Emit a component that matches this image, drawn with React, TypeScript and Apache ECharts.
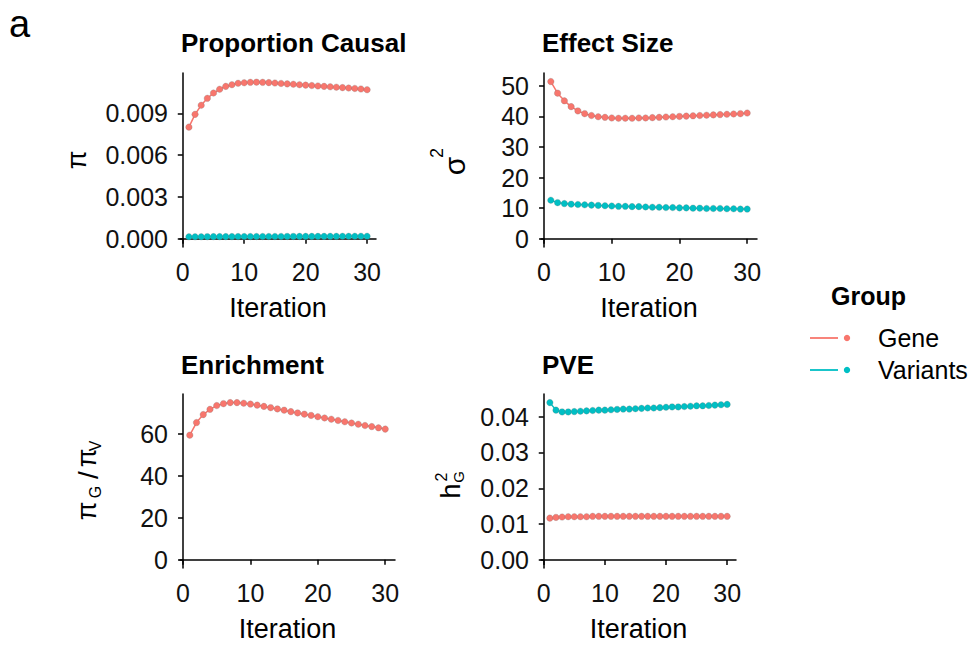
import React, { useEffect, useRef } from "react";
import * as echarts from "echarts";

const iterations = [1, 2, 3, 4, 5, 6, 7, 8, 9, 10, 11, 12, 13, 14, 15, 16, 17, 18, 19, 20, 21, 22, 23, 24, 25, 26, 27, 28, 29, 30];

const propCausalGene = [0.00801, 0.00893, 0.00958, 0.01008, 0.01046, 0.01073, 0.01094, 0.01106, 0.01116, 0.0112, 0.01123, 0.01124, 0.01123, 0.01121, 0.01118, 0.01115, 0.01112, 0.01109, 0.01106, 0.01103, 0.011, 0.01097, 0.01094, 0.01091, 0.01088, 0.01085, 0.01082, 0.01079, 0.01075, 0.0107];
const propCausalVariants = [0.000135, 0.000137, 0.000139, 0.000141, 0.000143, 0.000144, 0.000146, 0.000148, 0.00015, 0.000151, 0.000153, 0.000154, 0.000155, 0.000156, 0.000157, 0.000158, 0.000159, 0.00016, 0.000161, 0.000162, 0.000163, 0.000164, 0.000165, 0.000166, 0.000167, 0.000168, 0.000169, 0.00017, 0.000171, 0.000172];

const effectGene = [51.4, 47.6, 45.1, 43.2, 41.8, 40.9, 40.3, 39.9, 39.7, 39.5, 39.4, 39.4, 39.4, 39.5, 39.5, 39.6, 39.7, 39.8, 39.9, 40.0, 40.1, 40.2, 40.3, 40.4, 40.5, 40.6, 40.7, 40.8, 40.9, 41.1];
const effectVariants = [12.6, 11.8, 11.5, 11.3, 11.2, 11.1, 11.0, 10.9, 10.8, 10.7, 10.6, 10.6, 10.5, 10.5, 10.4, 10.3, 10.3, 10.2, 10.2, 10.1, 10.1, 10.0, 10.0, 9.9, 9.9, 9.9, 9.8, 9.8, 9.7, 9.7];

const enrichmentGene = [59.3, 65.3, 69.1, 71.6, 73.4, 74.3, 74.8, 74.8, 74.5, 74.1, 73.6, 73.0, 72.4, 71.8, 71.2, 70.5, 69.9, 69.3, 68.7, 68.1, 67.5, 66.9, 66.3, 65.7, 65.1, 64.5, 63.9, 63.4, 62.8, 62.2];

const pveGene = [0.0117, 0.0119, 0.012, 0.0121, 0.0121, 0.0121, 0.0121, 0.0122, 0.0122, 0.0122, 0.0122, 0.0122, 0.0122, 0.0122, 0.0122, 0.0122, 0.0122, 0.0122, 0.0122, 0.0122, 0.0122, 0.0122, 0.0122, 0.0122, 0.0122, 0.0122, 0.0122, 0.0122, 0.0122, 0.0122];
const pveVariants = [0.0439, 0.0418, 0.0413, 0.0413, 0.0414, 0.0415, 0.0416, 0.0417, 0.0418, 0.0418, 0.0419, 0.042, 0.0421, 0.0421, 0.0422, 0.0423, 0.0424, 0.0424, 0.0425, 0.0426, 0.0427, 0.0427, 0.0428, 0.0429, 0.043, 0.043, 0.0431, 0.0432, 0.0433, 0.0434];

const xTicks = [0, 10, 20, 30];
const yTicksProp = [0, 0.003, 0.006, 0.009];
const yTicksEffect = [0, 10, 20, 30, 40, 50];
const yTicksEnrich = [0, 20, 40, 60];
const yTicksPve = [0, 0.01, 0.02, 0.03, 0.04];

const panelTitles = ["Proportion Causal", "Effect Size", "Enrichment", "PVE"];
const groups = ["Gene", "Variants"];
const GENE = "#F8766D";
const VAR = "#00BFC4";
const FONT = "'Liberation Sans', Arial, sans-serif";

export default function App() {
  const ref = useRef<HTMLDivElement>(null);
  useEffect(() => {
    document.body.style.margin = "0";
    if (!ref.current) return;
    const chart = echarts.init(ref.current, null, { renderer: "svg" });

    const grids = [
      { left: 180, top: 73, width: 196, height: 174 },
      { left: 541, top: 73, width: 216, height: 174 },
      { left: 180, top: 394, width: 215, height: 174 },
      { left: 541, top: 394, width: 195, height: 174 },
    ];
    const yRanges = [
      { min: -0.0006, max: 0.0119, ticks: yTicksProp, dec: 3 },
      { min: -2.7, max: 54.2, ticks: yTicksEffect, dec: 0 },
      { min: -3.9, max: 78.9, ticks: yTicksEnrich, dec: 0 },
      { min: -0.0022, max: 0.0463, ticks: yTicksPve, dec: 2 },
    ];
    const axisLine = { show: true, lineStyle: { color: "#000", width: 1.5 } };
    const axisTick = (vals: number[]) => ({ show: true, length: 5, lineStyle: { color: "#000", width: 1.5 }, customValues: vals });

    const xAxis = grids.map((_, i) => ({
      type: "value",
      gridIndex: i,
      min: -0.45,
      max: 31.45,
      axisLine,
      axisTick: axisTick(xTicks),
      splitLine: { show: false },
      axisLabel: { customValues: xTicks, margin: 12, fontSize: 25, color: "#111", fontFamily: FONT },
      name: "Iteration",
      nameLocation: "middle",
      nameGap: 47,
      nameTextStyle: { fontSize: 27, color: "#000", fontFamily: FONT },
    }));
    const yAxis = yRanges.map((r, i) => ({
      type: "value",
      gridIndex: i,
      min: r.min,
      max: r.max,
      axisLine,
      axisTick: axisTick(r.ticks),
      splitLine: { show: false },
      axisLabel: {
        customValues: r.ticks,
        margin: 12,
        fontSize: 25,
        color: "#111",
        fontFamily: FONT,
        formatter: (v: number) => v.toFixed(r.dec),
      },
    }));

    const mk = (name: string, color: string, vals: number[], idx: number) => ({
      type: "line",
      name,
      xAxisIndex: idx,
      yAxisIndex: idx,
      data: iterations.map((it, k) => [it, vals[k]]),
      symbol: "circle",
      symbolSize: 6.5,
      showSymbol: true,
      lineStyle: { color, width: 1.5 },
      itemStyle: { color, borderColor: "rgba(110,110,110,0.5)", borderWidth: 0.5 },
      emphasis: { disabled: true },
    });

    const series = [
      mk(groups[0], GENE, propCausalGene, 0),
      mk(groups[1], VAR, propCausalVariants, 0),
      mk(groups[0], GENE, effectGene, 1),
      mk(groups[1], VAR, effectVariants, 1),
      mk(groups[0], GENE, enrichmentGene, 2),
      mk(groups[0], GENE, pveGene, 3),
      mk(groups[1], VAR, pveVariants, 3),
    ];

    const titlePos = [
      [181, 43],
      [542, 43],
      [181, 365],
      [542, 365],
    ];
    const txt = (text: string, x: number, y: number, size: number, extra: any = {}) => ({
      type: "text",
      x,
      y,
      silent: true,
      style: {
        text,
        font: `${extra.bold ? "bold " : ""}${size}px ${extra.family || FONT}`,
        fill: "#000",
        textAlign: extra.align || "left",
        textVerticalAlign: "middle",
      },
      rotation: extra.rot || 0,
    });
    const rot = Math.PI / 2;

    const graphic: any[] = [
      txt("a", 9, 24, 38),
      ...panelTitles.map((t, i) => txt(t, titlePos[i][0], titlePos[i][1], 26, { bold: true })),
      // y-axis titles
      txt("π", 77, 160, 27, { align: "center", rot }),
      txt("σ", 454, 166, 30, { align: "center", rot }),
      txt("2", 437, 153, 18, { align: "center", rot }),
      txt("π", 87, 511, 27, { align: "center", rot }),
      txt("G", 95, 492, 16, { align: "center", rot }),
      txt("/", 88, 475, 28, { align: "center", rot }),
      txt("π", 87, 458, 27, { align: "center", rot }),
      txt("V", 95, 446, 16, { align: "center", rot }),
      txt("h", 451, 491, 27, { align: "center", rot }),
      txt("2", 441, 477, 16, { align: "center", rot }),
      txt("G", 458, 477, 15, { align: "center", rot }),
      // legend
      txt("Group", 831, 296, 25, { bold: true }),
      { type: "line", silent: true, shape: { x1: 810, y1: 338, x2: 838, y2: 338 }, style: { stroke: GENE, lineWidth: 1.8 } },
      { type: "circle", silent: true, shape: { cx: 847, cy: 338, r: 3.2 }, style: { fill: GENE } },
      txt(groups[0], 878, 338, 25),
      { type: "line", silent: true, shape: { x1: 810, y1: 370, x2: 838, y2: 370 }, style: { stroke: VAR, lineWidth: 1.8 } },
      { type: "circle", silent: true, shape: { cx: 847, cy: 370, r: 3.2 }, style: { fill: VAR } },
      txt(groups[1], 878, 370, 25),
    ];

    chart.setOption({
      animation: false,
      backgroundColor: "#fff",
      textStyle: { fontFamily: FONT },
      grid: grids,
      xAxis,
      yAxis,
      series,
      graphic,
    });
    return () => chart.dispose();
  }, []);
  return <div ref={ref} style={{ width: 976, height: 646, overflow: "hidden" }} />;
}
